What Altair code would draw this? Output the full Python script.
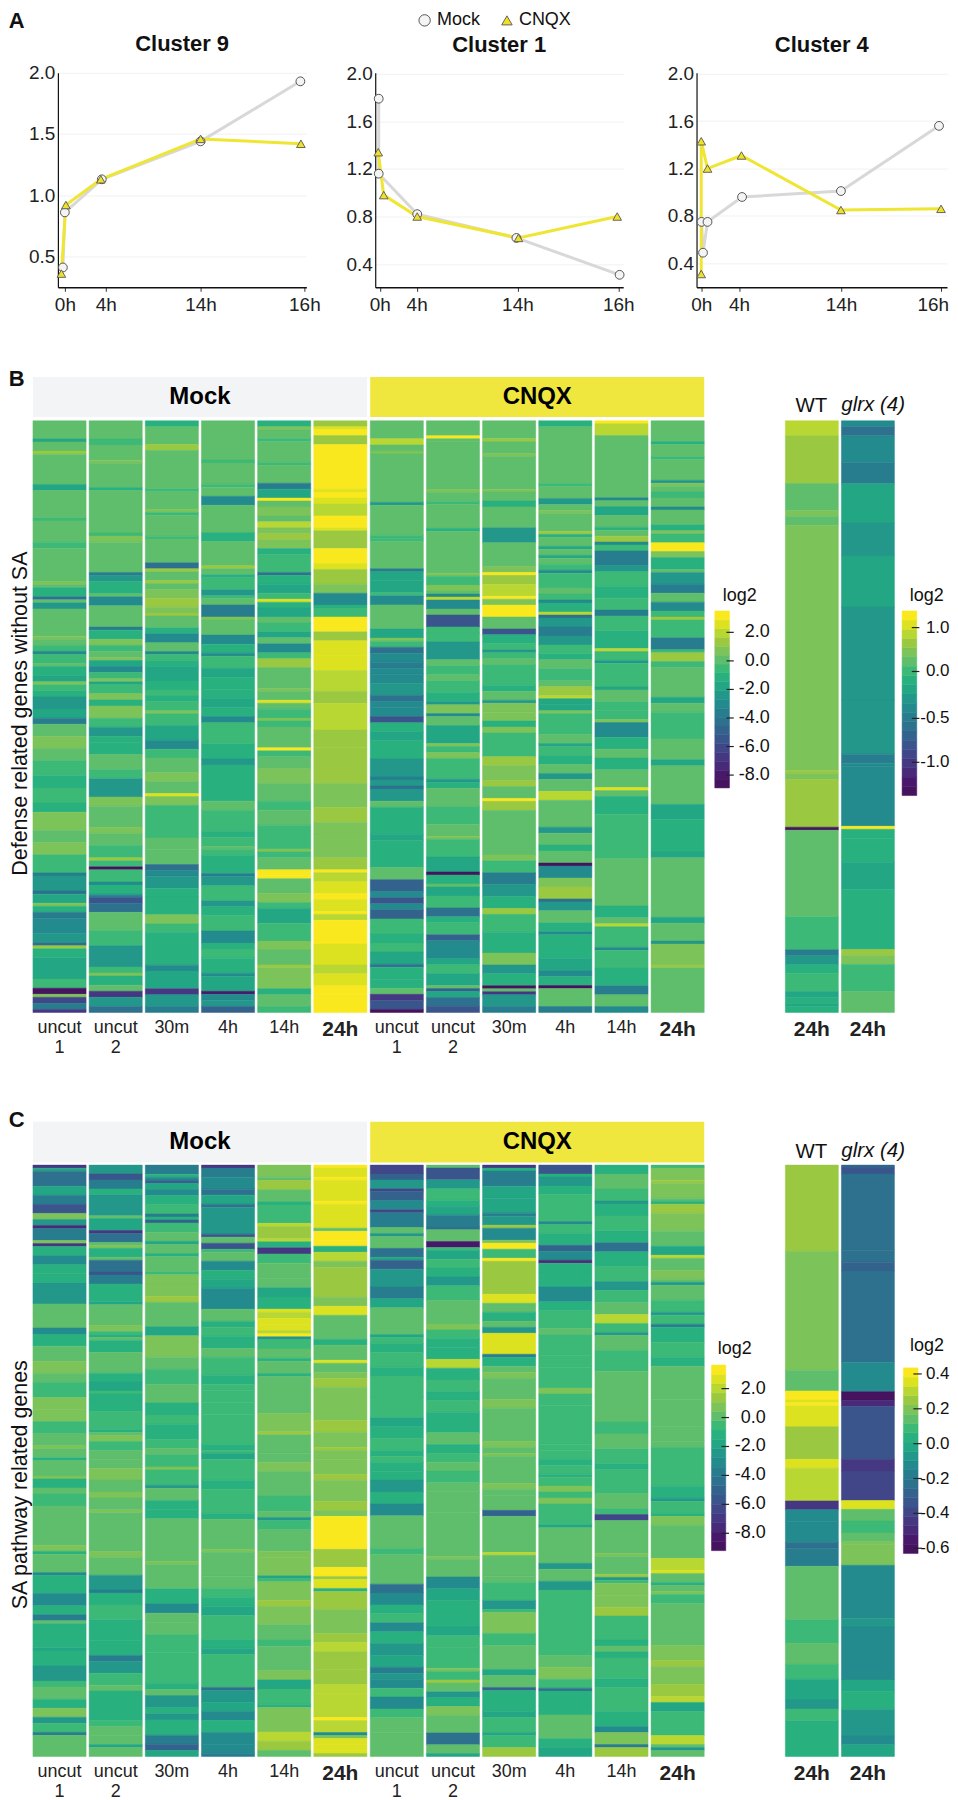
import altair as alt
import numpy as np
import pandas as pd

FONT = "Liberation Sans"
PALETTE = ['#46135f','#48196b','#482a78','#453781','#404688','#39558c','#33638d','#2d718e','#277d8e','#238a8d',
           '#22978a','#23a684','#29b07f','#3cb976','#5fbe6b','#7cc35a','#9ac941','#b8d732','#dce21f','#fae81e']
BIN_NAMES = [str(i) for i in range(20)]

# ---------- Panel A: [hours position, value]
C9_MOCK_X = [-0.2, 0.0, 3.7, 13.6, 23.6]
C9_MOCK_Y = [0.41, 0.86, 1.13, 1.44, 1.93]
C9_CNQX_X = [-0.35, 0.1, 3.6, 13.6, 23.65]
C9_CNQX_Y = [0.36, 0.92, 1.13, 1.46, 1.42]
C1_MOCK_X = [-0.1, -0.1, 3.76, 13.7, 24.04]
C1_MOCK_Y = [1.79, 1.16, 0.82, 0.62, 0.31]
C1_CNQX_X = [-0.15, 0.4, 3.76, 13.9, 23.8]
C1_CNQX_Y = [1.34, 0.98, 0.80, 0.62, 0.80]
C4_MOCK_X = [0.03, 0.18, 0.63, 4.09, 14.0, 23.83]
C4_MOCK_Y = [0.75, 0.49, 0.75, 0.96, 1.01, 1.56]
C4_CNQX_X = [0.0, 0.0, 0.63, 4.03, 14.0, 24.03]
C4_CNQX_Y = [0.31, 1.43, 1.20, 1.31, 0.85, 0.86]

# ---------- Heatmaps: flat pairs of (number of genes, log2 value), top to bottom
B_M1 = [6,.1,1,-1.75,3,.1,1,1.3,10,.1,2,-1.75,9,.1,1,-.5,7,.1,2,-.5,11,.1,1,.7,1,.1,3,-1.1,1,-4.2,1,.1,2,-2.4,9,.1,1,.7,2,.1,2,-.5,1,-3,3,-.5,1,.1,3,-1.1,2,-1.75,1,.7,2,-.5,2,-1.1,4,-2.4,
        3,-1.75,2,-3.6,4,.1,4,.7,4,.1,5,-.5,4,-1.1,5,-.5,3,-1.1,6,.7,4,.1,4,.7,6,-.5,1,-3.6,5,-2.4,1,-4.2,3,-1.75,1,.7,2,-1.1,2,-3.6,5,-3,3,-2.4,1,-4.2,1,1.3,3,-1.1,7,-1.75,3,-.5,2,-8.6,1,.7,2,-6.1,2,-3.6,1,-6.7]
B_M2 = [6,.1,2,-.5,5,.1,1,.7,8,.1,1,-1.1,14,.1,1,-.5,2,.7,10,.1,1,-3.6,2,-2.4,4,-1.1,1,.1,3,-3,7,.1,1,-3.6,3,-1.1,2,.7,2,-.5,2,.1,1,.7,2,-1.75,2,-3,2,-.5,1,.7,1,-1.75,3,-.5,2,.7,2,-1.1,
        4,.7,3,-.5,3,-2.4,2,-1.1,4,-1.1,5,.1,3,-.5,6,-2.4,3,.7,7,.1,2,.7,4,.1,4,-.5,1,1.3,2,-.5,1,-8.6,4,-.5,1,-3,3,-1.1,1,-3,2,-5.5,3,-4.2,6,.1,5,-.5,7,-2.4,2,-.5,1,.7,3,-1.1,2,.1,2,-7,3,-2.4,2,-4.2]
B_M3 = [2,-1.1,6,.1,2,1.3,13,.1,1,-.5,6,.1,1,.7,1,-.5,7,.1,1,-.5,8,.1,2,-4.5,1,1.3,3,.1,1,1.3,2,.1,3,.7,3,1.3,2,.7,1,1.3,4,.1,2,-1.1,3,-3,3,.1,1,-3,2,-.5,2,-1.1,5,-1.75,3,-1.1,2,-.5,2,-1.1,
        3,-.5,1,.7,4,-.5,5,-1.75,3,-3,3,-.5,5,.1,3,.7,4,.1,1,2.6,3,.7,11,-.5,4,.1,5,.1,2,-4.5,2,-3,4,-2.4,3,-1.1,6,-1.1,3,.7,3,-.5,11,-1.1,2,-3,6,-1.75,2,-6.7,4,-2.4,2,-3.6]
B_M4 = [13,.1,1,-.5,7,.1,1,-.5,3,.1,3,-3,9,.1,3,-1.1,8,.1,1,1.3,2,.1,1,-1.1,4,-.5,2,-2.4,1,-.5,2,-.1,4,-3.6,1,.7,5,.1,3,-3,3,-1.1,1,-3,4,-.5,3,-1.75,4,-1.1,3,-1.1,3,-1.75,
        3,-1.1,2,-3,7,-.5,5,-1.1,2,-2.4,12,-1.1,3,.1,7,-.5,2,-1.1,3,-.5,1,.1,2,-.5,6,-1.1,1,-3.6,3,-2.4,5,-.5,2,-2.4,3,-1.1,5,-.5,4,-3,2,-1.1,3,-.5,5,-1.1,1,-3,5,-1.75,1,-8,2,-3,2,-2.4,2,-4.85]
B_M5 = [2,-1.1,1,.7,3,.1,1,-.5,7,.1,1,-.5,6,.1,2,-3.6,3,-1.75,1,3.2,2,.1,3,.7,2,.1,2,1.95,2,.7,2,1.3,3,.7,2,-1.1,6,-.3,1,-4.2,3,-1.1,3,-1.75,2,-.5,1,2.6,2,-1.1,3,-1.75,2,.1,3,-.5,2,-1.75,2,-.1,3,-3,2,-.5,3,1.3,7,.1,1,.7,3,.1,1,2.6,2,-.1,
        3,-.5,1,.7,2,-.5,7,.4,1,2.9,2,-.5,4,.1,5,.7,6,.1,3,-.5,5,.1,8,-.5,1,.7,2,-.5,4,.1,2,3.2,1,3.2,5,.4,3,.7,2,-.5,5,-1.75,6,-.5,3,.7,5,-.1,1,1.3,7,.7,2,-1.1,4,.1,2,-.8]
B_M6 = [2,1.3,1,2.6,2,3.2,3,1.6,15,3.3,1,2.6,2,3.2,2,2.6,4,1.95,4,3.2,1,2.6,6,1.5,5,3.3,2,2.6,5,1.3,3,.7,4,-3,1,-1.1,3,-.5,5,3.3,3,1.5,5,2.4,5,2.6,7,1.95,4,1.5,
        9,1.95,2,1.3,4,1.6,12,1.3,8,.7,5,1.3,4,.9,8,.7,4,1.5,1,3.2,3,1.95,4,2.8,2,3.2,4,2.8,1,3.3,2,1.95,7,3.1,1,3.3,7,2.7,3,1.95,4,2.5,3,3.3,6,2.9]
B_C1 = [6,.1,2,1.95,2,.1,1,.7,16,.1,1,-2.4,10,.1,1,-.5,1,-.5,9,.1,1,-3.6,3,-1.75,4,-1.5,1,-.5,3,-3,8,.1,3,-1.5,1,1,2,-.5,2,-4.2,3,-3,2,-3.6,2,-3,3,-3.3,4,-2.4,2,-4.2,2,-3,
        3,-3,2,-5.5,3,-1.1,3,-1.5,6,-1.1,6,-2.4,1,-3.6,2,-2.4,1,-4.2,4,-2.4,2,.1,9,-1.1,2,-1.75,9,-1,4,.1,4,-4.6,2,-3,2,-5.5,2,-3,3,-5,3,-.5,2,-.5,3,-1.1,3,-.5,4,-2,1,-4,4,-1.3,3,-1.1,2,.1,2,-7,3,-5.5,1,-8.6]
B_C2 = [5,.1,1,3.2,1,.1,16,.1,1,.7,3,.1,1,-.5,8,.1,1,-1.1,14,.1,1,.7,3,-.5,2,.7,1,.1,1,-3,1,1.95,3,-3,2,.1,4,-5.5,2,-.5,3,-.3,6,-2.4,2,.1,3,-.5,2,.1,4,-.5,3,-1.1,1,-2.4,
        3,.7,1,-3,3,.1,6,-1.5,1,1,2,-.5,2,.7,7,-.5,1,-2.4,2,-1.1,6,.1,6,-.5,4,.1,1,.7,6,-.5,5,-1.9,1,-8.6,3,-1.1,1,.1,3,-1.5,4,-.5,3,-4.2,2,-1.3,4,-.3,2,-5,6,-3,2,-2,3,-.5,4,-1.5,1,.1,1,-5,2,-1.5,3,-4,2,-5.5]
B_C3 = [6,.1,1,1.3,4,.1,1,.7,11,.1,1,.7,3,.1,2,-1.1,7,.1,5,-2.2,8,.1,2,.7,1,3.2,3,1.3,4,1.8,1,3.3,2,1,4,3,4,.1,2,-5.5,3,-1.3,2,-.5,1,-2.4,2,-.5,2,.1,7,-.5,2,-1.1,3,.1,1,-2.4,3,.7,
        2,.9,1,.7,2,-1.1,2,.5,8,-.5,3,1.5,5,.7,2,1.6,4,.1,1,2.9,3,1.2,15,.1,2,.7,4,-.3,4,-3.4,4,-2.4,4,-1.1,2,1.3,6,-.5,7,-1.2,4,.7,3,-2.2,4,-1.3,1,-8.6,1,.1,1,-7,4,-2.6,2,-3.6]
B_C4 = [2,-1,19,.1,1,-.5,4,.1,2,-2.4,2,.1,1,.7,6,.1,1,1.5,1,-1.1,3,.1,1,-1.5,2,.1,1,-1.75,2,.1,2,-.5,1,-3,5,-.5,2,.1,2,-.3,1,-3,3,-1.1,1,1.95,1,-4.5,3,-2.4,3,-3.8,3,-2.4,3,-.5,2,-1.1,3,.1,4,-.5,2,-.1,3,1.6,1,2.2,2,-2,
        2,-1.5,1,.7,7,-.5,3,.1,1,-2,3,-.5,3,-1.1,3,.1,2,-2.4,4,.1,3,1.95,9,-.1,2,-2.4,4,.1,2,-1.3,4,.1,1,-8.6,4,-3,3,.7,4,1.3,1,-4,3,-2.4,4,.1,3,-1.1,1,-3,8,-1.2,4,-1.75,2,-3,3,-1.3,1,-8.6,6,-.2,2,-3.6]
B_C5 = [1,2.9,4,1.95,21,.1,1,-3,2,-.1,3,-1.75,4,.1,1,-1.1,2,.1,2,1.6,1,-3,2,-.3,5,-3.6,2,-2.4,5,-.7,4,-1.1,4,-.5,2,-3.6,5,-.7,6,-1.3,1,2.2,3,-.3,1,-2.7,8,-.8,1,-2,4,.1,3,-.5,
        3,-.5,1,1,5,-3,4,-1,3,.1,4,-1.2,6,-.1,1,2.6,2,.1,6,-1.1,15,-.5,16,.1,4,-1.1,2,.1,1,2.1,7,-.7,1,-3,6,-.3,6,-.9,3,-3.6,4,-.2,2,-3]
B_C6 = [7,.1,1,-1.1,4,.1,1,-.5,7,.1,1,-2.4,1,1,2,.1,2,-.5,3,.1,1,-3,5,.1,2,-1.1,1,.7,3,-.5,3,3.3,2,.7,4,-1.1,1,.1,4,-2.4,3,-3.6,3,.1,3,-3,2,-.5,1,1.5,6,-.3,4,-3.4,1,-.5,3,1.3,2,-.5,10,.2,2,-2,3,.4,
        9,-.5,7,.1,2,-2,13,.0,5,-1.75,11,-1.2,2,-1.75,20,.1,2,-1.75,6,.1,1,-2.6,7,.7,1,1.3,15,.4]
B_WT = [5,.86,16,.65,9,.23,2,.44,3,.23,82,.44,1,.65,2,.44,16,.65,1,-1.33,29,.23,11,.02,2,-.49,3,-.29,3,-.09,6,.02,2,-.19,2,-.09,1,-.19,2,-.09]
B_GL = [2,-.39,3,-.59,9,-.39,7,-.49,13,-.19,11,-.29,17,-.19,31,-.29,18,-.29,3,-.49,1,-.39,20,-.39,1,1.28,3,-.09,8,-.09,9,-.19,20,-.09,2,.65,3,.44,9,.02,7,.23]

C_M1 = [1,-6.7,1,-1.75,5,-4.5,3,-2,3,-3.6,3,-5.5,2,.7,2,-2.4,1,-7.3,4,-3.6,1,.7,1,-7,3,-.9,3,-3,3,-1,3,-1.3,7,-2.4,3,.3,5,.1,2,-3,4,-1,5,.1,4,.7,3,.1,5,-.5,4,.7,4,.9,4,-.5,4,.1,1,.7,
        3,.3,1,-1,5,.1,1,.7,3,-1,2,.1,4,-.5,13,.1,2,.7,1,-1,6,.1,1,-3,6,-1.3,4,-3,3,-1.3,2,-3.6,1,.1,8,-1,1,-2,5,-1,5,-2.4,2,-.5,4,.1,3,-1.1,3,.7,2,-2.4,3,-.3,1,-3.6,7,.1]
C_M2 = [3,-2.4,2,-5.5,3,-3.6,2,-.9,7,-2.4,1,.3,4,-1.8,1,-7,3,-4.5,1,.1,1,.7,3,-1.5,1,.2,4,-4.5,1,-5.5,3,-3.6,3,-1.1,3,-.9,1,-2,7,.1,2,.5,1,-.5,1,-1.1,1,.1,4,-1.3,7,-.2,3,-1,3,-2,1,-.5,2,-1.5,4,-.9,6,-.7,1,-1,1,.1,2,.7,3,-.3,
        3,.3,3,.1,4,.9,4,.3,2,.7,4,.1,1,.7,13,.1,2,.7,6,.1,5,-2.7,1,-3.6,4,-1.5,5,-.5,7,-1,5,-1.5,2,-4,4,-2.6,4,-.5,2,.1,10,-1,2,-.3,3,.4,3,.1,1,-2,3,.2]
C_M3 = [3,-4,1,-1.1,1,-3,1,-5,2,-2,2,-3,3,-1.5,3,-.5,1,-3.6,1,-1.5,1,-5,3,-.7,3,.1,1,-2,3,.1,1,-1,5,.1,1,-.5,3,.7,4,.9,2,1.4,8,.1,3,-2,2,.7,5,.9,4,.3,5,-.3,6,.1,4,-1.1,3,-.6,5,-1.1,3,-.5,2,.1,
        4,-.7,1,.5,5,-.5,1,-2.2,4,-.2,3,-1.2,3,-1.5,14,.1,1,.7,8,.1,5,-.9,3,-3,3,.1,4,.4,6,-.3,10,-.5,2,-1.2,2,.1,4,-2.5,2,-1.3,2,-2.7,5,-1.2,3,-3.6,2,-5,2,-2]
C_M4 = [1,-6.7,3,-3.6,4,-3,2,-4.2,3,-2,1,-4.5,9,-2.2,1,-5.5,2,.1,2,-5.8,1,-.5,3,.1,3,-3,3,-1.2,3,-2,7,-3,4,.1,2,-1.2,3,-.3,4,-.9,3,-.2,6,-.7,3,-1.2,2,-.5,4,-.8,4,-.5,10,-.5,2,-1.5,1,-.5,
        2,-1.75,7,-.5,3,-1.3,8,-.5,2,-1.5,10,.1,1,.6,8,.1,4,-.1,3,-.7,3,-1.1,3,-2,8,-.7,3,-1.1,2,-1.9,11,-.3,1,-4.5,4,-2.5,3,-1.7,3,-3,4,-1.3,4,-3,3,-3.3,1,-3.6]
C_M5 = [4,.7,1,.1,3,1.4,4,.3,1,-1.1,6,-.5,1,1.95,4,1.4,1,1.95,2,-1,2,-7,3,-.3,5,.4,3,.3,3,-1.8,4,-1,1,2.9,2,2.2,2,2.6,2,2.9,1,1.95,1,3,1,-2.5,3,-.3,3,.1,1,-1.1,4,.3,1,-1,12,.2,6,.5,1,1.3,6,.2,
        3,.4,3,.7,8,.1,5,-.3,2,.2,1,-2.5,3,-.5,7,.1,2,.7,6,.6,1,-2,1,-.5,6,.7,2,1.3,6,.6,5,.1,2,-.5,8,.3,3,.7,3,-1.8,5,-.3,1,-1.1,8,.6,3,2.2,3,1.3,2,-.2]
C_M6 = [1,3.2,3,2.4,1,3.2,7,2.4,1,3.1,8,2.6,1,.4,3,3.1,2,3.3,2,-1,3,1.95,2,.7,10,1.4,3,.8,3,2.5,8,.3,2,-.9,5,.1,1,2.7,3,.1,2,1,3,1.4,11,.7,4,1.5,5,.5,1,1.3,
        3,.8,5,.8,2,1.4,7,.6,3,1.5,2,.5,11,3.3,6,1.6,3,3,1,1.5,3,2.6,1,-1,6,1.3,8,.7,3,1.6,3,2.2,6,1.3,5,1.4,3,1.95,8,2.2,1,3.2,4,2.2,1,-3,1,.7,2,2.9,2,2.4,1,2.9,1,1.3]
C_C1 = [3,-6.5,2,-5,3,-2.5,1,-6.5,3,-5,3,-2.9,1,-6,5,-3.5,2,.1,1,-2.4,4,.1,3,-4.5,1,-1.8,3,-5,6,-2.5,4,-3.5,3,-2,9,.1,1,-2,2,-.5,3,-1.5,5,-.7,3,-1,7,-.6,7,-.7,3,-1.7,4,-1,4,-.5,
        2,-1.1,2,-.5,3,-1.5,3,-1.2,4,-2.5,4,-1.5,4,-3,11,.1,2,-.7,10,.1,3,-4.6,4,-3.2,3,-1.5,3,-.7,3,-3,4,-1.3,4,-2.6,4,-2,2,-4,2,-2.5,3,-3,3,-.5,4,-2.8,3,-.5,5,-.2,8,.1]
C_C2 = [1,.1,4,-5.5,3,-2.7,4,-.7,2,-1.2,3,-1.8,4,-3.5,1,-4.5,4,.1,2,-8.5,1,-.7,3,-1.7,3,-.5,3,-1.5,3,-2.5,5,-.6,8,.1,2,.5,3,-.3,3,-1,4,-1.1,3,1.95,4,-1.2,4,-.5,3,-1.5,4,-.5,7,-1.1,4,.1,3,-1,
        3,-.5,3,.1,4,-.5,3,.1,7,-.2,15,.1,1,.6,6,.1,4,-3,4,-1.8,9,-1.1,3,-2,4,-.8,7,-.5,1,1,3,-.5,1,1.4,3,.1,2,-2.5,3,-1,3,.6,6,-.2,4,-4.3,3,.1,1,-2]
C_C3 = [1,-6.7,1,-1.5,5,-3.5,4,-2,5,-1.6,1,-4,3,-2.2,1,1.3,4,-3,1,.7,2,3.2,3,-.3,1,3,11,1.4,3,2.7,3,.3,3,-1.2,2,.1,2,-2.4,7,2.4,1,-3.6,3,-.9,2,.3,2,.8,7,.3,3,.7,11,.3,2,.6,
        2,.3,1,.7,9,.1,2,.7,2,.1,5,-.1,2,-5,12,.1,1,2.3,7,.1,2,-.2,6,-.6,3,-2.2,1,-.3,7,.7,4,-.5,8,-.1,2,-2,4,-.2,1,-5,7,-1.3,2,-2,5,-.5,1,-2,4,-.5,3,1.5]
C_C4 = [3,-5.5,1,-1.5,3,-2.7,3,-1.1,9,-.5,1,-3,3,-.4,4,-1.5,2,-5,3,-3,1,-7.3,3,-1.2,5,-1.2,5,-3,3,-1,6,-.4,2,.3,7,-.7,4,-.3,7,-.7,2,.7,4,-.3,13,-.5,2,-.5,
        3,-.7,2,-1.5,3,-.3,1,-1.5,3,-.5,2,.7,2,-.3,2,.7,7,-.7,1,-2,12,.1,2,-2.7,4,-.1,3,-2.7,22,-.3,4,.2,4,.6,3,-.5,1,-4.2,5,-1.5,3,-1.1,8,.1,3,-1.5,3,-1.7]
C_C5 = [3,-1.1,5,.1,4,-.5,1,-2.7,4,-1.1,5,-.5,4,-1.1,3,-4.5,5,-1.2,5,-.7,3,-2.7,4,-.5,4,.2,3,1.95,3,-.5,1,-2.5,5,.2,7,-.4,8,.1,9,.1,4,-.5,5,.1,
        5,-.7,2,-1.5,8,-.6,5,.1,2,-.5,2,-6.1,11,.1,1,1,6,.1,1,1.2,1,-2.5,1,-.5,4,.9,4,.8,3,1.5,8,-.5,2,-1.5,2,.2,2,-1.2,7,-.5,3,-1.5,8,-.5,5,-.9,2,-2.9,4,.8,1,-3.5,3,1.5]
C_C6 = [1,-.5,4,.6,1,1.3,5,.5,1,.1,1,-1.2,3,1.4,6,.7,5,.1,3,-2,1,1.95,4,.1,3,.8,1,.1,1,-2.3,5,.1,4,-.5,1,-2.4,3,-.8,1,-3.5,5,-1.2,5,-.7,3,-1.2,11,.1,9,-.2,5,.1,2,.3,
        13,-.6,4,-1.5,1,-2.7,4,-.3,1,-1.2,3,.5,11,.1,4,2.1,1,2.9,3,.1,1,-1.5,2,.1,1,1,3,-.8,14,.0,5,.6,2,1.4,6,.5,4,1.6,2,1.95,3,-1.7,8,-.3,3,1.95,1,.3,1,-2.7,2,.1]
C_WT = [29,.249,40,.195,7,.142,3,.408,1,.355,1,.408,7,.33,11,.249,3,.355,11,.302,3,-.444,4,-.124,7,-.124,2,-.23,6,-.2,18,.142,8,.089,7,.142,5,.089,7,-.017,3,-.07,4,.089,12,.036]
C_GL = [1,-.284,2,-.337,26,-.25,4,-.23,3,-.284,31,-.23,10,-.15,3,-.604,2,-.497,18,-.337,4,-.444,10,-.39,3,.355,4,.142,4,.089,3,.142,1,.195,7,.195,18,-.15,3,-.07,18,-.1,4,-.017,6,.036,9,-.07,3,-.124,4,-.017]

N_ROWS = 198
MAIN_COLS = ["uncut|1", "uncut|2", "30m", "4h", "14h", "24h"]
TICKS_MAIN = [2, 0, -2, -4, -6, -8]


def edges(t_pts, v_pts):
    return np.interp(np.arange(21) / 20, t_pts, v_pts)


COLOR_SCALE = alt.Scale(domain=BIN_NAMES, range=PALETTE)


def heat_frame(names, columns, e):
    out = []
    for name, flat in zip(names, columns):
        runs = flat[0::2]
        vals = flat[1::2]
        k = N_ROWS / sum(runs)
        pos = 0.0
        for r, v in zip(runs, vals):
            b = str(int(np.searchsorted(e[1:20], v, side="right")))
            out.append({"col": name, "y0": pos, "y1": pos + r * k, "v": v, "b": b})
            pos += r * k
    return pd.DataFrame(out)


def heat_block(names, columns, width, height, ytop, e, header=None, extras=()):
    yscale = alt.Scale(domain=[ytop, N_ROWS], reverse=True, nice=False, zero=False)
    gap = 3.0 / (width / len(names))
    heat = alt.Chart(heat_frame(names, columns, e)).mark_rect(strokeWidth=0.5).encode(
        x=alt.X("col:N", sort=names, title=None,
                scale=alt.Scale(domain=names, paddingInner=gap, paddingOuter=0),
                axis=alt.Axis(domain=False, ticks=False, labelAngle=0, labelPadding=6,
                              labelExpr="split(datum.value,'|')", labelLineHeight=20,
                              labelFont=FONT, labelColor="#222222", labelLimit=0, labelOverlap=False,
                              labelFontSize={"condition": {"test": "indexof(datum.value,'24h')>=0", "value": 21}, "value": 18},
                              labelFontWeight={"condition": {"test": "indexof(datum.value,'24h')>=0", "value": "bold"}, "value": "normal"})),
        y=alt.Y("y0:Q", scale=yscale, axis=None),
        y2="y1:Q",
        color=alt.Color("b:N", scale=COLOR_SCALE, legend=None),
        stroke=alt.Color("b:N", scale=COLOR_SCALE, legend=None),
    )
    layers = [heat]
    if header:
        hd = pd.DataFrame([{"y0": header["y0"], "y1": header["y1"], "ym": (header["y0"] + header["y1"]) / 2,
                            "label": header["label"]}])
        layers.append(alt.Chart(hd).mark_rect(color=header["fill"]).encode(
            x=alt.value(0), x2=alt.value(width),
            y=alt.Y("y0:Q", scale=yscale, axis=None), y2="y1:Q"))
        layers.append(alt.Chart(hd).mark_text(font=FONT, fontSize=24, fontWeight="bold", color="#000000").encode(
            x=alt.value(width / 2), y=alt.Y("ym:Q", scale=yscale, axis=None), text="label:N"))
    for x in extras:
        layers.append(x(yscale))
    return alt.layer(*layers).properties(width=width, height=height)


def legend_leaf(e, yscale, ticks, width, height, bar, tick, lab_x, title_x, title_y, lab_size=18):
    bins = pd.DataFrame({"hi": e[1:], "lo": e[:-1], "b": BIN_NAMES})
    tk = pd.DataFrame({"t": ticks, "s": [f"{t:.1f}" for t in ticks]})
    y = alt.Y("t:Q", scale=yscale, axis=None)
    rects = alt.Chart(bins).mark_rect(strokeWidth=0.5).encode(
        x=alt.value(bar[0]), x2=alt.value(bar[1]),
        y=alt.Y("hi:Q", scale=yscale, axis=None), y2="lo:Q",
        color=alt.Color("b:N", scale=COLOR_SCALE, legend=None),
        stroke=alt.Color("b:N", scale=COLOR_SCALE, legend=None))
    rules = alt.Chart(tk).mark_rule(color="#222222", strokeWidth=1.2).encode(
        x=alt.value(tick[0]), x2=alt.value(tick[1]), y=y)
    labels = alt.Chart(tk).mark_text(font=FONT, fontSize=lab_size, align="right", color="#111111").encode(
        x=alt.value(lab_x), y=y, text="s:N")
    title = alt.Chart(pd.DataFrame({"s": ["log2"]})).mark_text(font=FONT, fontSize=18, color="#111111").encode(
        x=alt.value(title_x), y=alt.value(title_y), text="s:N")
    return alt.layer(rects, rules, labels, title).properties(width=width, height=height)


def spacer(y):
    return alt.Chart(pd.DataFrame({"a": [0]})).mark_point(size=1, opacity=0).encode(x=alt.value(0), y=alt.value(y))


def blank(width, height, extras=()):
    layers = [spacer(0)] + list(extras)
    return alt.layer(*layers).properties(width=width, height=height)


def letter_mark(letter, y):
    return alt.Chart(pd.DataFrame({"s": [letter]})).mark_text(
        font=FONT, fontSize=22, fontWeight="bold", align="left", baseline="top", color="#111111").encode(
        x=alt.value(-24.3), y=alt.value(y), text="s:N")


def cluster(title, width, dom_x, dom_y, yvals, xticks, mx, my, cx, cy, shift_last=0):
    m = pd.DataFrame({"x": mx, "y": my, "o": range(len(mx))})
    c = pd.DataFrame({"x": cx, "y": cy, "o": range(len(cx))})
    xs = alt.X("x:Q", title=None, scale=alt.Scale(domain=dom_x, nice=False, zero=False),
               axis=alt.Axis(values=xticks, grid=False, domainColor="#111111", domainWidth=1.6, tickColor="#333333",
                             tickSize=4, labelFontSize=19, labelFont=FONT, labelColor="#222222", labelPadding=4,
                             labelFlush=False, labelOverlap=False,
                             labelOffset={"condition": {"test": "datum.value > 20", "value": shift_last}, "value": 0},
                             labelExpr="datum.value < 1 ? '0h' : datum.value < 8 ? '4h' : datum.value < 20 ? '14h' : '16h'"))
    ys = alt.Y("y:Q", title=None, scale=alt.Scale(domain=dom_y, nice=False, zero=False),
               axis=alt.Axis(values=yvals, format=".1f", grid=True, gridColor="#f1f1f1", domainColor="#111111",
                             domainWidth=1.2, ticks=False, labelFontSize=19, labelFont=FONT, labelColor="#222222",
                             labelPadding=3, labelFlush=False, labelOverlap=False))
    grey = alt.Chart(m).mark_line(color="#d8d8d8", strokeWidth=3).encode(x=xs, y=ys, order="o:Q")
    yel = alt.Chart(c).mark_line(color="#efe533", strokeWidth=3).encode(x=xs, y=ys, order="o:Q")
    p1 = alt.Chart(m).mark_point(shape="circle", filled=True, size=78, fill="#f4f4f6", stroke="#444444",
                                 strokeWidth=0.9, opacity=1).encode(x=xs, y=ys)
    p2 = alt.Chart(c).mark_point(shape="triangle-up", filled=True, size=75, fill="#efe02c", stroke="#555555",
                                 strokeWidth=0.9, opacity=1).encode(x=xs, y=ys)
    return alt.layer(grey, yel, p1, p2).properties(
        width=width, height=215,
        title=alt.TitleParams(title, fontSize=22, fontWeight="bold", font=FONT, anchor="middle", offset=8, color="#111111"))


# ---------- Row A
LG_Y = -52.5
lg_m = alt.Chart(pd.DataFrame({"s": ["Mock"]})).mark_point(shape="circle", filled=True, size=130, fill="#f4f4f6",
                                                          stroke="#444444", strokeWidth=0.9, opacity=1).encode(
    x=alt.value(115.5), y=alt.value(LG_Y))
lg_m_t = alt.Chart(pd.DataFrame({"s": ["Mock"]})).mark_text(font=FONT, fontSize=18, align="left", color="#111111").encode(
    x=alt.value(128), y=alt.value(LG_Y), text="s:N")
lg_c = alt.Chart(pd.DataFrame({"s": ["CNQX"]})).mark_point(shape="triangle-up", filled=True, size=110, fill="#efe02c",
                                                          stroke="#555555", strokeWidth=0.9, opacity=1).encode(
    x=alt.value(198), y=alt.value(LG_Y))
lg_c_t = alt.Chart(pd.DataFrame({"s": ["CNQX"]})).mark_text(font=FONT, fontSize=18, align="left", color="#111111").encode(
    x=alt.value(210), y=alt.value(LG_Y), text="s:N")

c9 = cluster("Cluster 9", 249, [-0.7, 24.2], [0.248, 2.0], [0.5, 1.0, 1.5, 2.0], [0, 4.1, 13.6, 24],
             C9_MOCK_X, C9_MOCK_Y, C9_CNQX_X, C9_CNQX_Y)
c1 = cluster("Cluster 1", 248.5, [-0.45, 24.4], [0.205, 2.008], [0.4, 0.8, 1.2, 1.6, 2.0], [0, 3.7, 13.8, 23.9],
             C1_MOCK_X, C1_MOCK_Y, C1_CNQX_X, C1_CNQX_Y)
c4 = cluster("Cluster 4", 251, [-0.47, 24.63], [0.198, 2.008], [0.4, 0.8, 1.2, 1.6, 2.0], [0, 3.78, 14, 24],
             C4_MOCK_X, C4_MOCK_Y, C4_CNQX_X, C4_CNQX_Y, shift_last=-8)
row_a = alt.hconcat(
    blank(21.7, 215, [letter_mark("A", -61.5), spacer(255)]), c9,
    blank(62.5, 215, [lg_m, lg_m_t, lg_c, lg_c_t]), c1, blank(67, 215), c4,
    spacing=3, bounds="flush")


def ytitle(text, row):
    def make(yscale):
        return alt.Chart(pd.DataFrame({"s": [text], "r": [row]})).mark_text(
            font=FONT, fontSize=21.5, angle=270, color="#111111").encode(
            x=alt.value(-12), y=alt.Y("r:Q", scale=yscale, axis=None), text="s:N")
    return make


def fixed(mark):
    return lambda yscale: mark


def top_text(label, x, row, style):
    def make(yscale):
        return alt.Chart(pd.DataFrame({"s": [label], "r": [row]})).mark_text(
            font=FONT, fontSize=20.5, fontStyle=style, color="#111111").encode(
            x=alt.value(x), y=alt.Y("r:Q", scale=yscale, axis=None), text="s:N")
    return make


# ---------- Row B (view top = page 375)
B_H, B_TOP = 636.7, -14.6
E_B = edges([0, 1], [-8.9, 3.5])
b_mock = heat_block(MAIN_COLS, [B_M1, B_M2, B_M3, B_M4, B_M5, B_M6], 334.7, B_H, B_TOP, E_B,
                    header=dict(y0=B_TOP, y1=-1.24, label="Mock", fill="#f3f4f6"),
                    extras=[ytitle("Defense related genes without SA", 98), fixed(letter_mark("B", -8)), fixed(spacer(692))])
b_cnqx = heat_block(MAIN_COLS, [B_C1, B_C2, B_C3, B_C4, B_C5, B_C6], 334.7, B_H, B_TOP, E_B,
                    header=dict(y0=B_TOP, y1=-1.24, label="CNQX", fill="#f0e73e"))
b_leg = legend_leaf(E_B, alt.Scale(domain=[-24.63, 19.88], nice=False, zero=False), TICKS_MAIN, 75, B_H,
                    (7.3, 22), (19, 26.3), 62.3, 32.3, 219.3)
E_B2 = edges([0, .18, .418, .671, .909, 1], [-1.37, -1, -.5, 0, 1, 1.39])
b_wt = heat_block(["24h", "24h "], [B_WT, B_GL], 109.3, B_H, B_TOP, E_B2,
                  extras=[top_text("WT", 26, -4.9, "normal"), top_text("glrx (4)", 88, -5.2, "italic")])
b_leg2 = legend_leaf(E_B2, alt.Scale(domain=[5.0, 1.39, 1, 0, -.5, -1, -1.37, -5], range=[0, 234.3, 251, 295, 342, 386, 419.3, B_H]),
                     [1, 0, -.5, -1], 52, B_H, (4, 18.7), (13.7, 21.3), 51.5, 28.7, 219.3, lab_size=17)
row_b = alt.hconcat(b_mock, b_cnqx, b_leg, b_wt, b_leg2, spacing=3, bounds="flush")

# ---------- Row C (view top = page 1107)
C_H, C_TOP = 648.3, -18.6
E_C = edges([0, 1], [-9.2, 3.63])
c_mock = heat_block(MAIN_COLS, [C_M1, C_M2, C_M3, C_M4, C_M5, C_M6], 334.7, C_H, C_TOP, E_C,
                    header=dict(y0=-14.5, y1=-0.9, label="Mock", fill="#f3f4f6"),
                    extras=[ytitle("SA pathway related genes", 107), fixed(letter_mark("C", 0))])
c_cnqx = heat_block(MAIN_COLS, [C_C1, C_C2, C_C3, C_C4, C_C5, C_C6], 334.7, C_H, C_TOP, E_C,
                    header=dict(y0=-14.5, y1=-0.9, label="CNQX", fill="#f0e73e"))
c_leg = legend_leaf(E_C, alt.Scale(domain=[-23.43, 21.29], nice=False, zero=False), TICKS_MAIN, 75, C_H,
                    (4, 18.3), (14, 21.6), 58.3, 27.3, 240)
E_C2 = edges([0, 1], [-.63, .435])
c_wt = heat_block(["24h", "24h "], [C_WT, C_GL], 109.3, C_H, C_TOP, E_C2,
                  extras=[top_text("WT", 26, -4.3, "normal"), top_text("glrx (4)", 88, -4.8, "italic")])
c_leg2 = legend_leaf(E_C2, alt.Scale(domain=[-1.795, 1.917], nice=False, zero=False),
                     [.4, .2, 0, -.2, -.4, -.6], 52, C_H, (5.3, 20), (15.3, 23.7), 51.5, 29, 236.5, lab_size=17)
row_c = alt.hconcat(c_mock, c_cnqx, c_leg, c_wt, c_leg2, spacing=3, bounds="flush")

chart = alt.vconcat(row_a, row_b, row_c, spacing=40, padding=0).configure(font=FONT).configure_view(stroke=None)

chart.save("out.html", embed_options={"renderer": "svg", "actions": False})
